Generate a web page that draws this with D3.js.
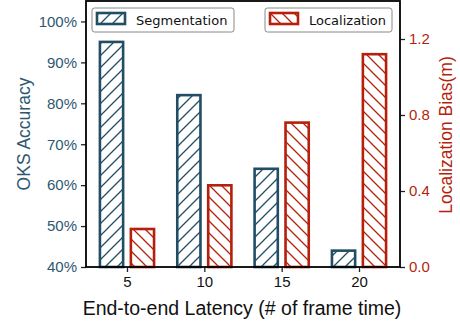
<!DOCTYPE html>
<html>
<head>
<meta charset="utf-8">
<script src="https://cdn.jsdelivr.net/npm/d3@7"></script>
<style>
  html, body { margin: 0; padding: 0; background: #fff; }
  svg { display: block; }
</style>
</head>
<body>
<div id="chart"></div>
<script>
// data
const latencies = ['5', '10', '15', '20'];
const segAccuracy = [95, 82, 64, 44];          // OKS accuracy, %
const locBias = [0.20, 0.43, 0.76, 1.12];      // localization bias, m
const leftTicks = [40, 50, 60, 70, 80, 90, 100];
const rightTicks = [0.0, 0.4, 0.8, 1.2];

const W = 460, H = 321;
const box = { left: 86, right: 400, top: 1, bottom: 267 };
const BLUE = '#214d65';
const BLUE_TXT = '#2e5770';
const RED = '#b51f0c';
const AXIS_FONT = '"Liberation Sans", Arial, sans-serif';

const svg = d3.select('#chart').append('svg')
    .attr('width', W).attr('height', H)
    .attr('viewBox', `0 0 ${W} ${H}`);

// hatch patterns
const defs = svg.append('defs');
function hatch(id, color, dir) {
    const s = 12;
    const p = defs.append('pattern')
        .attr('id', id)
        .attr('patternUnits', 'userSpaceOnUse')
        .attr('width', s).attr('height', s);
    const d = dir === '/'
        ? `M0,${s} L${s},0 M${-s/2},${s/2} L${s/2},${-s/2} M${s/2},${s*1.5} L${s*1.5},${s/2}`
        : `M0,0 L${s},${s} M${-s/2},${s/2} L${s/2},${s*1.5} M${s/2},${-s/2} L${s*1.5},${s/2}`;
    p.append('path').attr('d', d)
        .attr('stroke', color).attr('stroke-width', 1.3).attr('fill', 'none');
}
hatch('hatch-seg', BLUE, '/');
hatch('hatch-loc', RED, '\\');

// scales
const x = d3.scaleLinear().domain([-0.53, 3.53]).range([box.left, box.right]);
const yL = d3.scaleLinear().domain([40, 105]).range([box.bottom, box.top]);
const yR = d3.scaleLinear().domain([0, 1.4]).range([box.bottom, box.top]);
const barW = 0.3, off = 0.2;

// bars
const barsG = svg.append('g');
barsG.selectAll('rect.seg').data(segAccuracy).enter().append('rect')
    .attr('class', 'seg')
    .attr('x', (d, i) => x(i - off - barW / 2))
    .attr('width', x(barW) - x(0))
    .attr('y', d => yL(d))
    .attr('height', d => yL(40) - yL(d))
    .attr('fill', 'url(#hatch-seg)')
    .attr('stroke', BLUE).attr('stroke-width', 2.6);

barsG.selectAll('rect.loc').data(locBias).enter().append('rect')
    .attr('class', 'loc')
    .attr('x', (d, i) => x(i + off - barW / 2))
    .attr('width', x(barW) - x(0))
    .attr('y', d => yR(d))
    .attr('height', d => yR(0) - yR(d))
    .attr('fill', 'url(#hatch-loc)')
    .attr('stroke', RED).attr('stroke-width', 2.6);

// axes
const xAxis = svg.append('g')
    .attr('transform', `translate(0,${box.bottom})`)
    .call(d3.axisBottom(x).tickValues([0, 1, 2, 3]).tickFormat(i => latencies[i])
        .tickSizeOuter(0).tickSize(5).tickPadding(4));
const leftAxis = svg.append('g')
    .attr('transform', `translate(${box.left},0)`)
    .call(d3.axisLeft(yL).tickValues(leftTicks).tickFormat(d => d + '%')
        .tickSizeOuter(0).tickSize(5).tickPadding(4));
const rightAxis = svg.append('g')
    .attr('transform', `translate(${box.right},0)`)
    .call(d3.axisRight(yR).tickValues(rightTicks).tickFormat(d3.format('.1f'))
        .tickSizeOuter(0).tickSize(5).tickPadding(4));

[xAxis, leftAxis, rightAxis].forEach(g => {
    g.select('.domain').remove();
    g.selectAll('line').attr('stroke', '#222').attr('stroke-width', 1.3);
    g.selectAll('text').attr('font-family', AXIS_FONT).attr('font-size', 15);
});
xAxis.selectAll('text').attr('fill', '#111');
leftAxis.selectAll('text').attr('fill', BLUE_TXT);
rightAxis.selectAll('text').attr('fill', RED);

// frame
svg.append('rect')
    .attr('x', box.left).attr('y', box.top)
    .attr('width', box.right - box.left).attr('height', box.bottom - box.top)
    .attr('fill', 'none').attr('stroke', '#000').attr('stroke-width', 1.8);

// axis titles
svg.append('text')
    .attr('x', 242).attr('y', 314.5)
    .attr('text-anchor', 'middle')
    .attr('font-family', AXIS_FONT).attr('font-size', 19.5).attr('fill', '#111')
    .text('End-to-end Latency (# of frame time)');
svg.append('text')
    .attr('transform', `translate(30,${(box.top + box.bottom) / 2}) rotate(-90)`)
    .attr('text-anchor', 'middle')
    .attr('font-family', AXIS_FONT).attr('font-size', 17.5).attr('fill', BLUE_TXT)
    .text('OKS Accuracy');
svg.append('text')
    .attr('transform', `translate(452,${(box.top + box.bottom) / 2 + 1}) rotate(-90)`)
    .attr('text-anchor', 'middle')
    .attr('font-family', AXIS_FONT).attr('font-size', 17.5).attr('fill', RED)
    .text('Localization Bias(m)');

// legends
const legends = [
    { label: 'Segmentation', color: BLUE, fill: 'url(#hatch-seg)', x0: 92, w: 142 },
    { label: 'Localization', color: RED, fill: 'url(#hatch-loc)', x0: 265, w: 127 }
];
legends.forEach(l => {
    const g = svg.append('g').attr('transform', `translate(${l.x0},8)`);
    g.append('rect')
        .attr('width', l.w).attr('height', 24).attr('rx', 2.5)
        .attr('fill', '#fff').attr('stroke', '#888').attr('stroke-width', 1);
    g.append('rect')
        .attr('x', 5).attr('y', 5).attr('width', 28).attr('height', 11)
        .attr('fill', l.fill).attr('stroke', l.color).attr('stroke-width', 2.6);
    g.append('text')
        .attr('x', 44).attr('y', 16.5)
        .attr('font-family', '"DejaVu Sans", sans-serif').attr('font-size', 13)
        .attr('fill', '#111')
        .text(l.label);
});
</script>
</body>
</html>
